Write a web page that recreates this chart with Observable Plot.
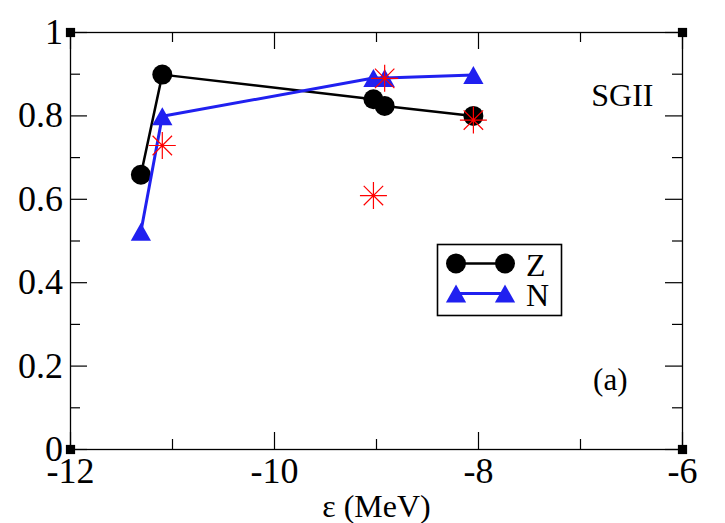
<!DOCTYPE html>
<html><head><meta charset="utf-8">
<script src="https://cdn.jsdelivr.net/npm/d3@7"></script>
<script src="https://cdn.jsdelivr.net/npm/@observablehq/plot@0.6"></script>
<style>body{margin:0;background:#fff} svg{display:block}</style>
</head><body><div id="chart"></div>
<script>
// ---- data ----
const zEps = [-11.31, -11.10, -9.03, -8.92, -8.05];
const zVal = [0.659, 0.899, 0.840, 0.824, 0.800];
const nEps = [-11.31, -11.10, -9.03, -8.92, -8.05];
const nVal = [0.522, 0.799, 0.891, 0.891, 0.898];
const starEps = [-11.10, -9.03, -8.92, -8.05];
const starVal = [0.729, 0.609, 0.890, 0.790];
const xDomain = [-12, -6];
const yDomain = [0, 1];
const xMajor = [-12, -10, -8, -6];
const xMinor = [-11, -9, -7];
const yMajor = [0, 0.2, 0.4, 0.6, 0.8, 1];
const yMinor = [0.1, 0.3, 0.5, 0.7, 0.9];
const seriesNames = ["Z", "N"];
const xLabel = "ε (MeV)";
const forceLabel = "SGII";
const panelLabel = "(a)";

const zData = zEps.map((x, i) => ({x, y: zVal[i]}));
const nData = nEps.map((x, i) => ({x, y: nVal[i]}));
const starData = starEps.map((x, i) => ({x, y: starVal[i]}));
const corners = d3.cross(xDomain, yDomain).map(([x, y]) => ({x, y}));

const BLUE = "rgb(32,32,240)";
const FONT = "Liberation Serif";

const W = 725, H = 523;
const mL = 70, mR = 43, mT = 32, mB = 74;
const iw = W - mL - mR, ih = H - mT - mB;

const triCentered = {
  draw(ctx, size) {
    const r = Math.sqrt(size / Math.PI);
    const w = r * 1.35, h = r * 1.2;
    ctx.moveTo(0, -h); ctx.lineTo(w, h); ctx.lineTo(-w, h); ctx.closePath();
  }
};
const star8 = {
  draw(ctx, size) {
    const r = Math.sqrt(size / Math.PI);
    const d = r * 0.72;
    ctx.moveTo(-r, 0); ctx.lineTo(r, 0);
    ctx.moveTo(0, -r); ctx.lineTo(0, r);
    ctx.moveTo(-d, -d); ctx.lineTo(d, d);
    ctx.moveTo(-d, d); ctx.lineTo(d, -d);
  }
};

const fmt = d => String(d);

const plot = Plot.plot({
  width: W, height: H,
  marginLeft: mL, marginRight: mR, marginTop: mT, marginBottom: mB,
  style: {fontFamily: FONT, fontSize: "36px", background: "#fff", color: "#000"},
  x: {domain: xDomain, label: null, axis: null},
  y: {domain: yDomain, label: null, axis: null},
  marks: [
    Plot.frame({stroke: "#000", strokeWidth: 1.3}),
    // inner ticks, all four sides
    Plot.tickX(xMajor, {x: d => d, insetTop: ih - 17, stroke: "#000", strokeWidth: 1.2}),
    Plot.tickX(xMajor, {x: d => d, insetBottom: ih - 17, stroke: "#000", strokeWidth: 1.2}),
    Plot.tickX(xMinor, {x: d => d, insetTop: ih - 10, stroke: "#000", strokeWidth: 1.2}),
    Plot.tickX(xMinor, {x: d => d, insetBottom: ih - 10, stroke: "#000", strokeWidth: 1.2}),
    Plot.tickY(yMajor, {y: d => d, insetRight: iw - 17, stroke: "#000", strokeWidth: 1.2}),
    Plot.tickY(yMajor, {y: d => d, insetLeft: iw - 17, stroke: "#000", strokeWidth: 1.2}),
    Plot.tickY(yMinor, {y: d => d, insetRight: iw - 10, stroke: "#000", strokeWidth: 1.2}),
    Plot.tickY(yMinor, {y: d => d, insetLeft: iw - 10, stroke: "#000", strokeWidth: 1.2}),
    Plot.dot(corners, {x: "x", y: "y", symbol: "square", r: 5.2, fill: "#000"}),
    // tick labels
    Plot.text(xMajor, {x: d => d, text: fmt, frameAnchor: "bottom", lineAnchor: "top", dy: 8, fontSize: 36, fontFamily: FONT, fill: "#000"}),
    Plot.text(yMajor, {y: d => d, text: fmt, frameAnchor: "left", textAnchor: "end", lineAnchor: "middle", dx: -7.5, fontSize: 36, fontFamily: FONT, fill: "#000"}),
    Plot.text([xLabel], {frameAnchor: "bottom", text: d => d, lineAnchor: "top", dy: 45, fontSize: 32, fontFamily: FONT, fill: "#000"}),
    // Z series
    Plot.line(zData, {x: "x", y: "y", stroke: "#000", strokeWidth: 2.5}),
    Plot.dot(zData, {x: "x", y: "y", r: 10, fill: "#000"}),
    // N series
    Plot.line(nData, {x: "x", y: "y", stroke: BLUE, strokeWidth: 3}),
    Plot.dot(nData, {x: "x", y: "y", r: 7.5, symbol: triCentered, fill: BLUE}),
    // asterisks
    Plot.dot(starData, {x: "x", y: "y", r: 13.5, symbol: star8, stroke: "red", strokeWidth: 1.2, fill: "none"}),
    // annotations
    Plot.text([forceLabel], {frameAnchor: "top-right", text: d => d, textAnchor: "end", lineAnchor: "top", dx: -29, dy: 51, fontSize: 32, fontFamily: FONT, fill: "#000"}),
    Plot.text([panelLabel], {frameAnchor: "bottom-right", text: d => d, textAnchor: "end", lineAnchor: "top", dx: -55, dy: -82, fontSize: 31, fontFamily: FONT, fill: "#000"})
  ]
});

// legend
const svg = d3.select(plot);
const lg = svg.append("g").attr("font-family", FONT).attr("text-anchor", "start");
lg.append("rect").attr("x", 437.5).attr("y", 244.5).attr("width", 124).attr("height", 71)
  .attr("fill", "#fff").attr("stroke", "#000").attr("stroke-width", 1.6);
const rows = [
  {name: seriesNames[0], y: 263.5, color: "#000", sym: d3.symbolCircle, size: Math.PI * 100, sw: 2.5},
  {name: seriesNames[1], y: 293.5, color: BLUE, sym: triCentered, size: Math.PI * 56.25, sw: 3}
];
rows.forEach(r => {
  lg.append("line").attr("x1", 456).attr("x2", 505).attr("y1", r.y).attr("y2", r.y)
    .attr("stroke", r.color).attr("stroke-width", r.sw);
  [456, 505].forEach(cx => {
    lg.append("path").attr("d", d3.symbol(r.sym, r.size)()).attr("transform", `translate(${cx},${r.y})`)
      .attr("fill", r.color);
  });
  lg.append("text").attr("x", 526).attr("y", r.y + 12).attr("text-anchor", "start")
    .style("font-size", "32px").attr("fill", "#000").text(r.name);
});

document.getElementById("chart").appendChild(plot);
</script>
</body></html>
